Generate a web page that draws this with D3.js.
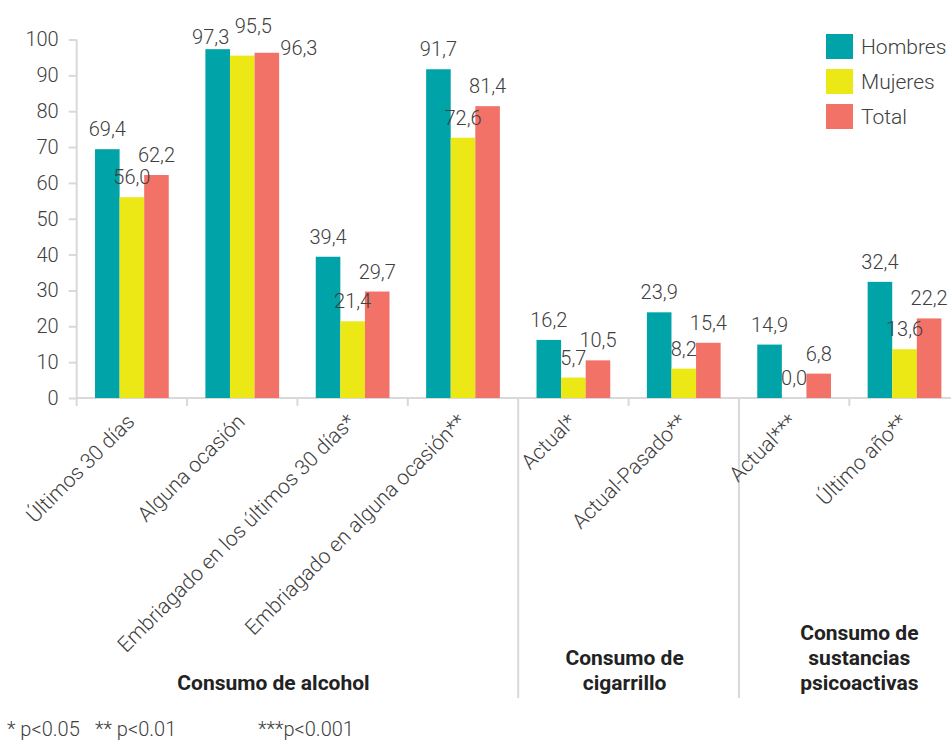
<!DOCTYPE html>
<html>
<head>
<meta charset="utf-8">
<script src="https://cdn.jsdelivr.net/npm/d3@7"></script>
<style>
  body { margin: 0; background: #fff; }
  svg { font-family: Roboto, "Noto Sans", sans-serif; }
</style>
</head>
<body>
<div id="chart"></div>
<script>
const categories = [
  "Últimos 30 días",
  "Alguna ocasión",
  "Embriagado en los últimos 30 días*",
  "Embriagado en alguna ocasión**",
  "Actual*",
  "Actual-Pasado**",
  "Actual***",
  "Último año**",
];
const seriesNames = ["Hombres", "Mujeres", "Total"];
const hombres = [69.4, 97.3, 39.4, 91.7, 16.2, 23.9, 14.9, 32.4];
const mujeres = [56.0, 95.5, 21.4, 72.6, 5.7, 8.2, 0.0, 13.6];
const total = [62.2, 96.3, 29.7, 81.4, 10.5, 15.4, 6.8, 22.2];
const yTicks = [0, 10, 20, 30, 40, 50, 60, 70, 80, 90, 100];
const groups = [
  { lines: ["Consumo de alcohol"], from: 0, to: 3 },
  { lines: ["Consumo de", "cigarrillo"], from: 4, to: 5 },
  { lines: ["Consumo de", "sustancias", "psicoactivas"], from: 6, to: 7 },
];
const footnotes = ["* p<0.05", "** p<0.01", "***p<0.001"];

const colors = ["#00a3a7", "#ebe816", "#f27267"];
const values = [hombres, mujeres, total];

// hand-placed labels in the original (dx, dy in px)
const labelNudge = {
  "1-0": [-7, 8],
  "1-1": [11, -10],
  "1-2": [32, 15],
};

const W = 951, H = 742;
const svg = d3.select("#chart").append("svg")
  .attr("width", W).attr("height", H);

const x0 = d3.scaleBand().domain(d3.range(categories.length))
  .range([76.7, 959.7]).padding(0);
const x1 = d3.scaleBand().domain(d3.range(seriesNames.length))
  .range([0, x0.bandwidth()]).paddingInner(0).paddingOuter(0.745);
const y = d3.scaleLinear().domain([0, 100]).range([398, 39.5]);

const axisColor = "#d9d9d9";
const textColor = "#404040";

// y axis
const yAxis = svg.append("g")
  .attr("transform", `translate(${x0.range()[0]},0)`)
  .call(d3.axisLeft(y).tickValues(yTicks).tickSize(8).tickPadding(10));
yAxis.select(".domain").remove();
yAxis.selectAll(".tick line").attr("stroke", axisColor).attr("stroke-width", 2);
yAxis.selectAll(".tick text")
  .attr("fill", textColor).style("font-size", "20px").style("font-weight", 300)
  .style("font-family", "Roboto, sans-serif");
yAxis.append("line")
  .attr("x1", 0).attr("x2", 0).attr("y1", y(100)).attr("y2", y(0) + 8)
  .attr("stroke", axisColor).attr("stroke-width", 2);

// x axis baseline + category ticks
svg.append("line")
  .attr("x1", x0.range()[0]).attr("x2", W)
  .attr("y1", y(0)).attr("y2", y(0))
  .attr("stroke", axisColor).attr("stroke-width", 2);

const boundaries = d3.range(1, categories.length).map((i) => x0(i));
const sepIdx = groups.slice(1).map((g) => g.from);
svg.selectAll(".ctick").data(boundaries).enter().append("line")
  .attr("class", "ctick")
  .attr("x1", (d) => d).attr("x2", (d) => d)
  .attr("y1", y(0))
  .attr("y2", (d, i) => sepIdx.includes(i + 1) ? 698 : y(0) + 8)
  .attr("stroke", axisColor).attr("stroke-width", 2);

// bars
const flat = [];
categories.forEach((c, ci) => {
  values.forEach((arr, si) => flat.push({ ci, si, v: arr[ci] }));
});

svg.selectAll(".bar").data(flat).enter().append("rect")
  .attr("class", "bar")
  .attr("x", (d) => x0(d.ci) + x1(d.si))
  .attr("y", (d) => y(d.v))
  .attr("width", x1.bandwidth())
  .attr("height", (d) => y(0) - y(d.v))
  .attr("fill", (d) => colors[d.si]);

const fmt = (v) => v.toFixed(1).replace(".", ",");
svg.selectAll(".vlabel").data(flat).enter().append("text")
  .attr("class", "vlabel")
  .attr("x", (d) => {
    const n = labelNudge[d.ci + "-" + d.si];
    return x0(d.ci) + x1(d.si) + x1.bandwidth() / 2 + (n ? n[0] : 0);
  })
  .attr("y", (d) => {
    const n = labelNudge[d.ci + "-" + d.si];
    return y(d.v) - 13 + (n ? n[1] : 0);
  })
  .attr("text-anchor", "middle")
  .attr("fill", textColor)
  .style("font-size", "20px").style("font-weight", 300)
  .text((d) => fmt(d.v));

// category labels
svg.selectAll(".clabel").data(categories).enter().append("text")
  .attr("class", "clabel")
  .attr("transform", (d, i) => `translate(${x0(i) + x0.bandwidth() / 2 + 4},${y(0) + 25}) rotate(-45)`)
  .attr("text-anchor", "end")
  .attr("fill", textColor)
  .style("font-size", "21px").style("font-weight", 300)
  .text((d) => d);

// group labels
const groupShift = [-24, -4, 10];
groups.forEach((g, gi) => {
  const cx = (x0(g.from) + x0(g.to) + x0.bandwidth()) / 2 + groupShift[gi];
  const t = svg.append("text")
    .attr("text-anchor", "middle")
    .attr("fill", "#222")
    .style("font-size", "21px").style("font-weight", 700);
  const n = g.lines.length;
  g.lines.forEach((l, li) => {
    t.append("tspan").attr("x", cx).attr("y", 690 - (n - 1 - li) * 25).text(l);
  });
});

// legend
const legend = svg.append("g").attr("transform", "translate(826,34)");
seriesNames.forEach((s, i) => {
  legend.append("rect")
    .attr("x", 0).attr("y", i * 35)
    .attr("width", 27).attr("height", 25)
    .attr("fill", colors[i]);
  legend.append("text")
    .attr("x", 35).attr("y", i * 35 + 20)
    .attr("fill", textColor)
    .style("font-size", "21px").style("font-weight", 300)
    .text(s);
});

// footnote
const footX = [7, 95, 258];
footnotes.forEach((f, i) => {
  svg.append("text")
    .attr("x", footX[i]).attr("y", 736)
    .attr("fill", textColor)
    .style("font-size", "20px").style("font-weight", 300)
    .text(f);
});
</script>
</body>
</html>
